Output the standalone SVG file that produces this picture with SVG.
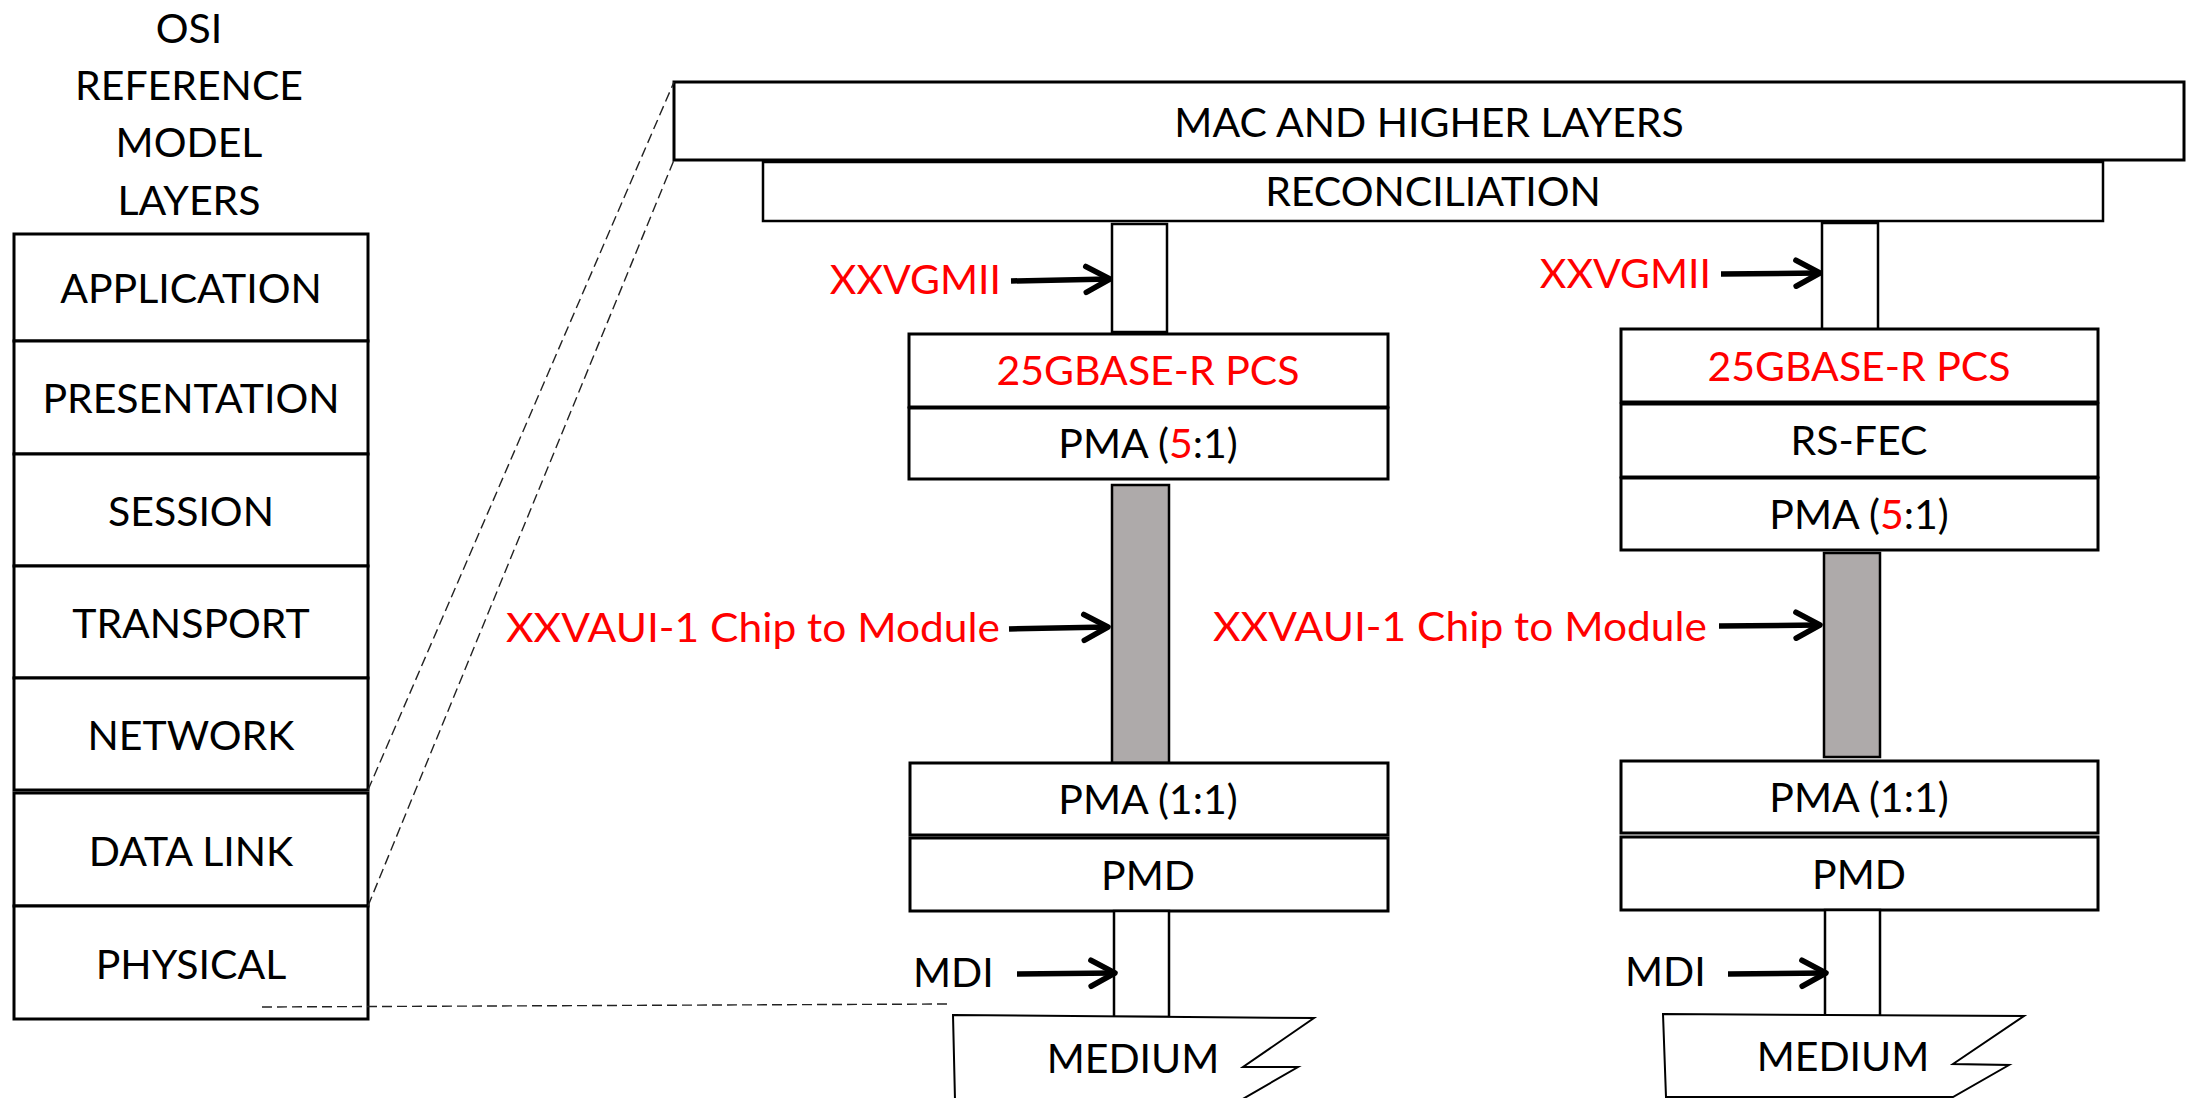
<svg xmlns="http://www.w3.org/2000/svg" width="2186" height="1098" viewBox="0 0 2186 1098">
<defs>
<style>
text{font-family:Lato,"Open Sans","Liberation Sans",sans-serif;font-size:41px;fill:#000}
.c{text-anchor:middle}
.e{text-anchor:end}
.r{fill:#FF0000}
.box{fill:#fff;stroke:#000;stroke-width:3}
.thin{fill:#fff;stroke:#000;stroke-width:2.5}
.bar{fill:#AEAAAA;stroke:#000;stroke-width:2.5}
.dash{fill:none;stroke:#222;stroke-width:1.4;stroke-dasharray:10 5}
.arr{fill:none;stroke:#000;stroke-width:5.5;marker-end:url(#chev)}
.med{fill:#fff;stroke:#000;stroke-width:2}
</style>
<marker id="chev" markerUnits="userSpaceOnUse" viewBox="-32 -18 36 36" markerWidth="36" markerHeight="36" refX="0" refY="0" orient="auto">
<path d="M-24 -13 L0 0 L-24 13" fill="none" stroke="#000" stroke-width="5.5" stroke-linecap="round" stroke-linejoin="round"/>
</marker>
</defs>

<g id="osi-title">
<text class="c" x="189" y="43">OSI</text>
<text class="c" x="189" y="100">REFERENCE</text>
<text class="c" x="189" y="157">MODEL</text>
<text class="c" x="189" y="215">LAYERS</text>
</g>
<g id="osi-application"><rect class="box" x="14" y="234" width="354" height="107"/><text class="c" x="191" y="303">APPLICATION</text></g>
<g id="osi-presentation"><rect class="box" x="14" y="341" width="354" height="113"/><text class="c" x="191" y="413">PRESENTATION</text></g>
<g id="osi-session"><rect class="box" x="14" y="454" width="354" height="112"/><text class="c" x="191" y="526">SESSION</text></g>
<g id="osi-transport"><rect class="box" x="14" y="566" width="354" height="112"/><text class="c" x="191" y="638">TRANSPORT</text></g>
<g id="osi-network"><rect class="box" x="14" y="678" width="354" height="112"/><text class="c" x="191" y="750">NETWORK</text></g>
<g id="osi-datalink"><rect class="box" x="14" y="793" width="354" height="113"/><text class="c" x="191" y="866">DATA LINK</text></g>
<g id="osi-physical"><rect class="box" x="14" y="906" width="354" height="113"/><text class="c" x="191" y="979">PHYSICAL</text></g>

<g id="mac"><rect class="box" x="674" y="82" width="1510" height="78"/><text class="c" x="1429" y="137">MAC AND HIGHER LAYERS</text></g>
<g id="reconciliation"><rect class="thin" x="763" y="162" width="1340" height="59"/><text class="c" x="1433" y="206">RECONCILIATION</text></g>

<g id="xxvgmii-1"><rect class="thin" x="1112" y="224" width="55" height="108"/></g>
<g id="pcs-1"><rect class="box" x="909" y="334" width="479" height="73"/><text class="c r" x="1148" y="385">25GBASE-R PCS</text></g>
<g id="pma51-1"><rect class="box" x="909" y="408" width="479" height="71"/><text class="c" x="1148" y="458">PMA (<tspan class="r">5</tspan>:1)</text></g>
<g id="xxvaui-1"><rect class="bar" x="1112" y="485" width="57" height="278"/></g>
<g id="pma11-1"><rect class="box" x="910" y="763" width="478" height="72"/><text class="c" x="1148" y="814">PMA (1:1)</text></g>
<g id="pmd-1"><rect class="box" x="910" y="838" width="478" height="73"/><text class="c" x="1148" y="890">PMD</text></g>
<g id="mdi-1"><rect class="thin" x="1114" y="911" width="55" height="106"/></g>
<g id="medium-1"><path class="med" d="M953 1015 L1314 1018 L1243 1067 L1298 1067 L1241 1100 L955 1100 Z"/><text class="c" x="1133" y="1073">MEDIUM</text></g>

<g id="xxvgmii-2"><rect class="thin" x="1822" y="223" width="56" height="107"/></g>
<g id="pcs-2"><rect class="box" x="1621" y="329" width="477" height="73"/><text class="c r" x="1859" y="381">25GBASE-R PCS</text></g>
<g id="rsfec-2"><rect class="box" x="1621" y="404" width="477" height="73"/><text class="c" x="1859" y="455">RS-FEC</text></g>
<g id="pma51-2"><rect class="box" x="1621" y="478" width="477" height="72"/><text class="c" x="1859" y="529">PMA (<tspan class="r">5</tspan>:1)</text></g>
<g id="xxvaui-2"><rect class="bar" x="1824" y="553" width="56" height="204"/></g>
<g id="pma11-2"><rect class="box" x="1621" y="761" width="477" height="72"/><text class="c" x="1859" y="812">PMA (1:1)</text></g>
<g id="pmd-2"><rect class="box" x="1621" y="837" width="477" height="73"/><text class="c" x="1859" y="889">PMD</text></g>
<g id="mdi-2"><rect class="thin" x="1825" y="910" width="55" height="106"/></g>
<g id="medium-2"><path class="med" d="M1663 1014 L2024 1016 L1953 1064 L2009 1065 L1953 1097 L1666 1097 Z"/><text class="c" x="1843" y="1071">MEDIUM</text></g>

<g id="labels">
<text class="e r" x="1001" y="294">XXVGMII</text>
<text class="e r" x="1000" y="642" textLength="494" lengthAdjust="spacingAndGlyphs">XXVAUI-1 Chip to Module</text>
<text x="913" y="987">MDI</text>
<text class="e r" x="1711" y="288">XXVGMII</text>
<text class="e r" x="1707" y="641" textLength="494" lengthAdjust="spacingAndGlyphs">XXVAUI-1 Chip to Module</text>
<text x="1625" y="986">MDI</text>
</g>

<g id="connectors">
<line class="dash" x1="368" y1="790" x2="674" y2="82"/>
<line class="dash" x1="368" y1="906" x2="674" y2="160"/>
<line class="dash" x1="262" y1="1007" x2="947" y2="1004"/>
<line class="arr" x1="1011" y1="281" x2="1110" y2="279"/>
<line class="arr" x1="1009" y1="629" x2="1108" y2="627"/>
<line class="arr" x1="1017" y1="974" x2="1115" y2="973"/>
<line class="arr" x1="1721" y1="274" x2="1820" y2="273"/>
<line class="arr" x1="1719" y1="626" x2="1820" y2="625"/>
<line class="arr" x1="1728" y1="974" x2="1826" y2="973"/>
</g>
</svg>
